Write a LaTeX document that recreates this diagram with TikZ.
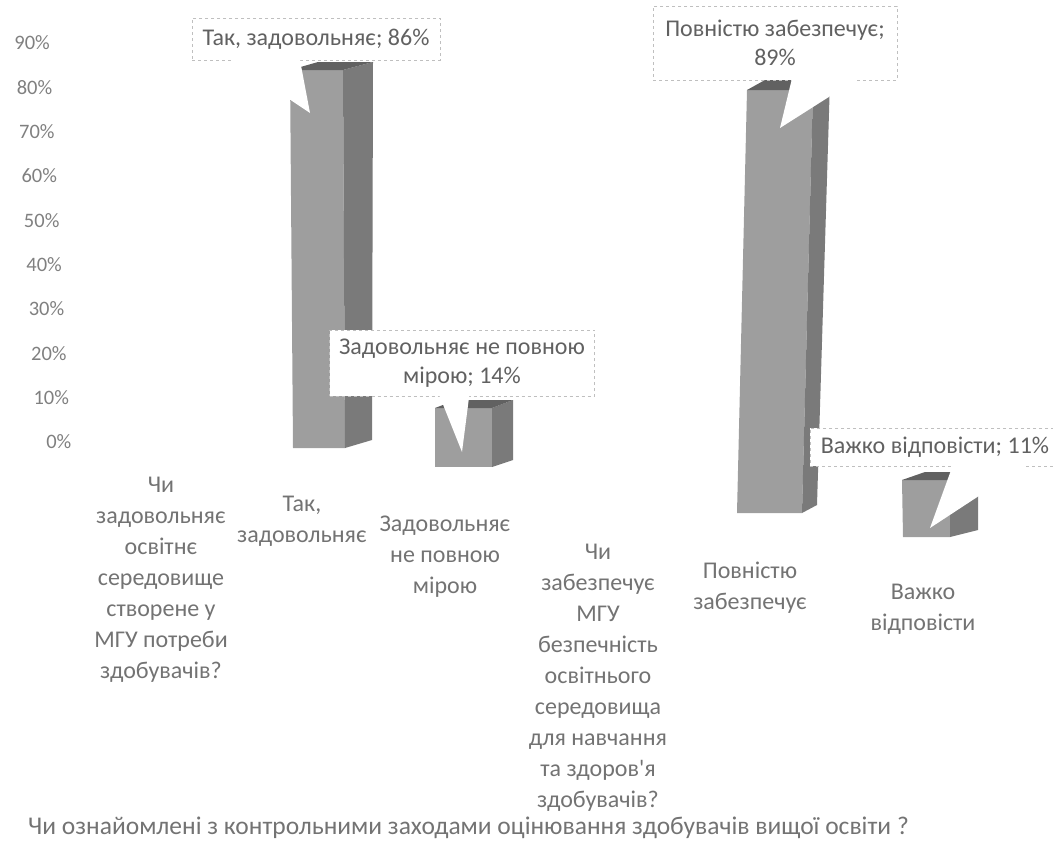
\documentclass[tikz,border=0pt]{standalone}
\usepackage{fontspec}
\setmainfont{Carlito}[Ligatures=TeXOff]
\usetikzlibrary{positioning,calc}

\begin{document}
\begin{tikzpicture}[x=1pt,y=-1pt,
	ylab/.style={anchor=east,text=black!50,font=\fontsize{20.5}{24}\selectfont,inner sep=0pt},
	catlab/.style={align=center,text=black!55,font=\fontsize{24}{31}\selectfont,inner sep=0pt},
	callout/.style={draw=black!25,dashed,fill=white,text=black!62,align=center,font=\fontsize{24}{29}\selectfont,inner sep=0pt},
	pointer/.style={fill=white},
	barfront/.style={fill=black!38},
	barside/.style={fill=black!52},
	bartop/.style={fill=black!62}]
	\useasboundingbox (0,0) rectangle (1053,854);

	% vertical axis
	\foreach \p [count=\i from 0] in {90,80,...,0}
		\node[ylab] (y\p) at ({50+2.4*\i},{43+44.3*\i}) {\p\%};

	% bars
	\fill[barfront] (290,70) -- (343,70) -- (345,448) -- (293,448) -- cycle;
	\fill[barside] (343,70) -- (373,62) -- (372,440) -- (345,448) -- cycle;
	\fill[bartop] (290,70) -- (318,62) -- (373,62) -- (343,70) -- cycle;

	\fill[barfront] (435,408) -- (492,408) -- (492,467) -- (435,467) -- cycle;
	\fill[barside] (492,408) -- (513,400) -- (513,460) -- (492,467) -- cycle;
	\fill[bartop] (435,408) -- (456,400) -- (513,400) -- (492,408) -- cycle;

	\fill[barfront] (747,90) -- (813,90) -- (802,513) -- (737,513) -- cycle;
	\fill[barside] (813,90) -- (830,80) -- (817,505) -- (802,513) -- cycle;
	\fill[bartop] (747,90) -- (765,80) -- (830,80) -- (813,90) -- cycle;

	\fill[barfront] (902,480) -- (950,480) -- (950,537) -- (903,537) -- cycle;
	\fill[barside] (950,480) -- (978,472) -- (978,530) -- (950,537) -- cycle;
	\fill[bartop] (902,480) -- (925,472) -- (978,472) -- (950,480) -- cycle;

	% data labels
	\node[callout,minimum width=248pt,minimum height=42pt] (tak) at (316,39) {Так, задовольняє; 86\%};
	\node[callout,minimum width=265pt,minimum height=66pt] (nepovnoyu) at (462,363) {Задовольняє не повною\\мірою; 14\%};
	\node[callout,minimum width=244pt,minimum height=74pt] (povnistyu) at (775,43) {Повністю забезпечує;\\89\%};
	\node[callout,minimum width=250pt,minimum height=38pt] (vazhko) at (935,447) {Важко відповісти; 11\%};

	\coordinate (tipA) at (310,113);
	\coordinate (tipB) at (462,452);
	\coordinate (tipC) at (780,128);
	\coordinate (tipD) at (930,528);
	\fill[pointer] ([xshift=38pt,yshift=1pt]tak.south west) -- ([xshift=108pt,yshift=1pt]tak.south west) -- (tipA) -- cycle;
	\fill[pointer] ([xshift=110pt,yshift=1pt]nepovnoyu.south west) -- ([xshift=140pt,yshift=1pt]nepovnoyu.south west) -- (tipB) -- cycle;
	\fill[pointer] ([xshift=139pt,yshift=1pt]povnistyu.south west) -- ([xshift=204pt,yshift=1pt]povnistyu.south west) -- (tipC) -- cycle;
	\fill[pointer] ([xshift=143pt,yshift=1pt]vazhko.south west) -- ([xshift=216pt,yshift=1pt]vazhko.south west) -- (tipD) -- cycle;

	% categories
	\node[catlab] (q1) at (161,580) {Чи\\задовольняє\\освітнє\\середовище\\створене у\\МГУ потреби\\здобувачів?};
	\node[catlab] (c1) at (302,521) {Так,\\задовольняє};
	\node[catlab] (c2) at (445,557) {Задовольняє\\не повною\\мірою};
	\node[catlab] (q2) at (598,678) {Чи\\забезпечує\\МГУ\\безпечність\\освітнього\\середовища\\для навчання\\та здоров'я\\здобувачів?};
	\node[catlab] (c3) at (750,588) {Повністю\\забезпечує};
	\node[catlab] (c4) at (923,609) {Важко\\відповісти};

	\node[catlab,anchor=west,font=\fontsize{25.5}{30}\selectfont] (title) at (28,828) {Чи ознайомлені з контрольними заходами оцінювання здобувачів вищої освіти ?};
\end{tikzpicture}
\end{document}
